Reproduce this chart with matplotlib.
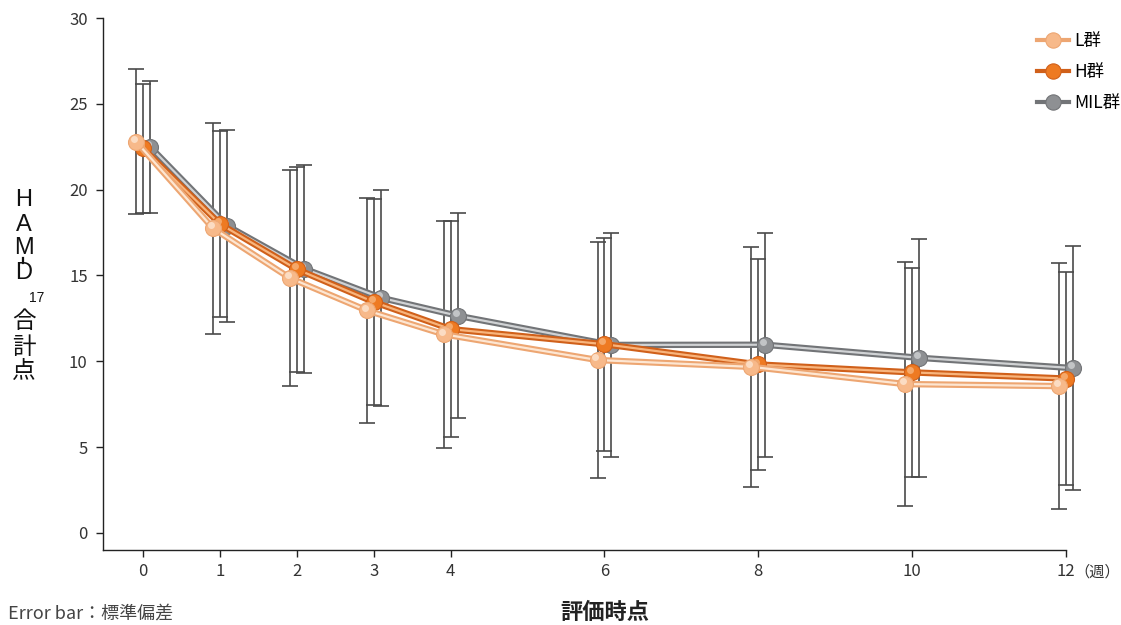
import matplotlib
matplotlib.use("Agg")
import matplotlib.pyplot as plt
import matplotlib.transforms as mtransforms
from matplotlib.lines import Line2D
import numpy as np

plt.rcParams['font.family'] = ['Noto Sans CJK JP', 'DejaVu Sans']

weeks = [0, 1, 2, 3, 4, 6, 8, 10, 12]
week_labels = ['0', '1', '2', '3', '4', '6', '8', '10', '12']

l_mean = [22.8, 17.75, 14.85, 12.96, 11.57, 10.07, 9.67, 8.67, 8.55]
l_sd = [4.25, 6.15, 6.31, 6.55, 6.60, 6.85, 6.97, 7.13, 7.19]
h_mean = [22.4, 18.0, 15.36, 13.45, 11.87, 10.99, 9.81, 9.35, 8.99]
h_sd = [3.78, 5.4, 5.97, 6.00, 6.28, 6.21, 6.14, 6.07, 6.21]
mil_mean = [22.5, 17.9, 15.4, 13.7, 12.65, 10.95, 10.96, 10.2, 9.6]
mil_sd = [3.85, 5.6, 6.06, 6.3, 5.97, 6.55, 6.53, 6.95, 7.11]

yticks = [0, 5, 10, 15, 20, 25, 30]

# name, means, sds, x shift (weeks), base / edge / highlight colours
groups = [
    ('MIL群', mil_mean, mil_sd, 0.09, '#8e9093', '#727477', '#d0d2d4'),
    ('H群', h_mean, h_sd, 0.0, '#ee7a22', '#d0601a', '#f8b47c'),
    ('L群', l_mean, l_sd, -0.09, '#f7b98a', '#eda672', '#fde6d2'),
]

fig = plt.figure(figsize=(11.21, 6.25), dpi=100)
ax = fig.add_axes([103 / 1121, 1 - 550 / 625, (1066 - 103) / 1121, (550 - 18) / 625])

x = np.array(weeks, dtype=float)
hl = mtransforms.offset_copy(ax.transData, fig=fig, x=-1.5, y=2.0, units='points')

handles = {}
for i, (name, mean, sd, shift, base, edge, light) in enumerate(groups):
    xs = x + shift
    ax.errorbar(xs, mean, yerr=sd, fmt='none', ecolor='#4a4a4a', elinewidth=1.2,
                capsize=5.5, capthick=1.2, zorder=1, clip_on=False)
    z = 3 + i * 3
    ax.plot(xs, mean, color=edge, lw=4.6, solid_capstyle='round', zorder=z, clip_on=False)
    ax.plot(xs, mean, color=light, lw=1.6, zorder=z + 0.5, clip_on=False)
    ax.plot(xs, mean, ls='none', marker='o', ms=11.5, mfc=base, mec=edge, mew=0.8,
            zorder=z + 1, clip_on=False)
    ax.plot(xs, mean, ls='none', marker='o', ms=5, mfc=light, mec='none', alpha=0.8,
            transform=hl, zorder=z + 1.5, clip_on=False)
    handles[name] = Line2D([], [], color=edge, lw=3, marker='o', ms=11, mfc=base,
                           mec=edge, mew=0.8)

ax.set_xlim(-0.52, 12)
ax.set_ylim(-1, 30)
ax.set_xticks(weeks)
ax.set_xticklabels(week_labels)
ax.set_yticks(yticks)
for s in ['top', 'right']:
    ax.spines[s].set_visible(False)
for s in ['left', 'bottom']:
    ax.spines[s].set_color('#222222')
    ax.spines[s].set_linewidth(1.0)
ax.tick_params(axis='both', direction='out', length=5, width=1.0, color='#222222',
               labelsize=12, labelcolor='#333333')
ax.tick_params(axis='x', pad=4)
ax.tick_params(axis='y', pad=6)

ax.annotate('（週）', xy=(12, 0), xycoords=('data', 'axes fraction'), xytext=(6, -16),
            textcoords='offset points', fontsize=11, color='#333333', va='center', ha='left')

# vertical stacked y label
ylab = [('H', 200), ('A', 225), ('M', 248), ('D', 273), ('合', 322), ('計', 347), ('点', 371)]
for ch, py in ylab:
    fam = ['Liberation Sans'] if ch.isascii() else ['Noto Sans CJK JP']
    fig.text(24 / 1121, 1 - py / 625, ch, fontsize=17, family=fam, ha='center',
             va='center', color='#111111')
fig.add_artist(Line2D([23 / 1121, 23 / 1121], [1 - 258 / 625, 1 - 263 / 625],
                      transform=fig.transFigure, color='#111111', lw=1.6))
fig.text(37 / 1121, 1 - 298 / 625, '17', fontsize=10, family=['Liberation Sans'],
         ha='center', va='center', color='#111111')

fig.text(605 / 1121, 1 - 612 / 625, '評価時点', fontsize=16, fontweight='bold',
         ha='center', va='center', color='#222222')
fig.text(8 / 1121, 1 - 614 / 625, 'Error bar：標準偏差', fontsize=13, ha='left',
         va='center', color='#444444')

order = ['L群', 'H群', 'MIL群']
ax.legend([handles[k] for k in order], order, loc='upper right',
          bbox_to_anchor=(1120 / 1121, 1 - 32 / 625), bbox_transform=fig.transFigure,
          frameon=False, fontsize=12.5, labelspacing=0.75, handlelength=1.8,
          handletextpad=0.3, borderpad=0, borderaxespad=0)

fig.savefig('out.png', dpi=100)
